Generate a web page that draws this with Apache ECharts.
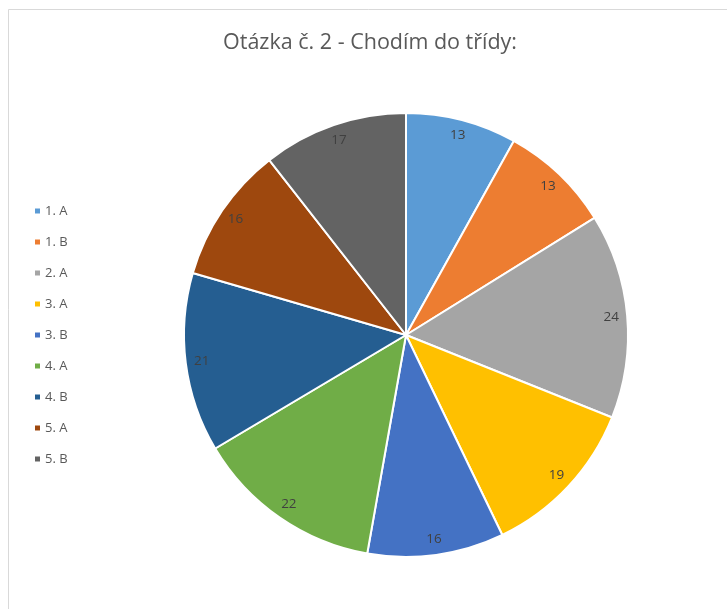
<!DOCTYPE html>
<html>
<head>
<meta charset="utf-8">
<script src="https://cdn.jsdelivr.net/npm/echarts@6/dist/echarts.min.js"></script>
<style>html,body{margin:0;padding:0;background:#fff;}#c{width:727px;height:609px;}</style>
</head>
<body>
<div id="c"></div>
<script>
const titleText = "Otázka č. 2 - Chodím do třídy:";
const categories = ["1. A", "1. B", "2. A", "3. A", "3. B", "4. A", "4. B", "5. A", "5. B"];
const values = [13, 13, 24, 19, 16, 22, 21, 16, 17];
const colors = ["#5b9bd5", "#ed7d31", "#a5a5a5", "#ffc000", "#4472c4", "#70ad47", "#255e91", "#9e480e", "#636363"];

const FONT = "'Open Sans', 'Liberation Sans', sans-serif";
const chart = echarts.init(document.getElementById('c'), null, {renderer: 'canvas'});
const data = categories.map((n, i) => ({name: n, value: values[i], itemStyle: {color: colors[i]}}));
const labelData = categories.map((n, i) => ({name: n, value: values[i]}));

chart.setOption({
  animation: false,
  backgroundColor: '#ffffff',
  graphic: [{
    type: 'rect', silent: true, z: -1,
    shape: {x: 8.5, y: 9.5, width: 760, height: 640},
    style: {fill: '#ffffff', stroke: '#d9d9d9', lineWidth: 1}
  }],
  title: {
    text: titleText, left: 365, top: 27, textAlign: 'center',
    textStyle: {fontFamily: FONT, fontSize: 21.5, fontWeight: 'normal', color: '#595959'}
  },
  legend: {
    orient: 'vertical', left: 28, top: 198,
    itemWidth: 7, itemHeight: 7, itemGap: 15, icon: 'rect',
    data: categories,
    textStyle: {fontFamily: FONT, fontSize: 13, color: '#595959', lineHeight: 16, padding: [0, 0, 0, -1]}
  },
  series: [{
    type: 'pie', center: [406, 335], radius: [0, 222], startAngle: 90, clockwise: true,
    data: data,
    itemStyle: {borderColor: '#ffffff', borderWidth: 2},
    label: {show: false}, labelLine: {show: false},
    emphasis: {disabled: true}
  }, {
    type: 'pie', center: [406, 335], radius: [0, 406], startAngle: 90, clockwise: true,
    data: labelData, silent: true, legendHoverLink: false,
    itemStyle: {color: 'rgba(0,0,0,0)', borderWidth: 0},
    label: {show: true, position: 'inside', formatter: '{c}', fontFamily: FONT, fontSize: 13.5, color: '#404040'},
    labelLine: {show: false},
    emphasis: {disabled: true}
  }]
});
</script>
</body>
</html>
